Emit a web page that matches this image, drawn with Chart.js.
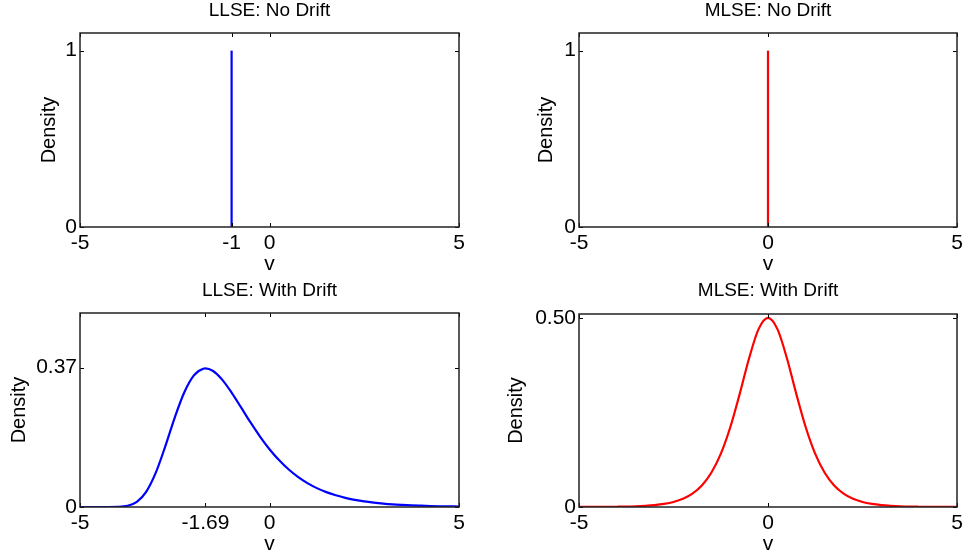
<!DOCTYPE html>
<html>
<head>
<meta charset="utf-8">
<script src="https://cdn.jsdelivr.net/npm/chart.js@4.4.1/dist/chart.umd.min.js"></script>
<style>
  body { margin: 0; background: #fff; }
  #fig { position: relative; width: 963px; height: 558px; background: #fff; }
  #fig canvas { position: absolute; }
</style>
</head>
<body>
<div id="fig">
  <canvas id="llseNo" width="481" height="280" style="left:0;top:0"></canvas>
  <canvas id="mlseNo" width="482" height="280" style="left:481px;top:0"></canvas>
  <canvas id="llseDrift" width="481" height="278" style="left:0;top:280px"></canvas>
  <canvas id="mlseDrift" width="482" height="278" style="left:481px;top:280px"></canvas>
</div>
<script>
// ── data ───────────────────────────────────────────────────────
const llseSpikeV = [-1, -1];
const llseSpikeD = [0, 1];
const mlseSpikeV = [0, 0];
const mlseSpikeD = [0, 1];

const llseDriftV = [-5, -4.75, -4.5, -4.25, -4, -3.75, -3.5, -3.25, -3, -2.75, -2.5, -2.25, -2, -1.75, -1.69,
  -1.5, -1.25, -1, -0.75, -0.5, -0.25, 0, 0.25, 0.5, 0.75, 1, 1.25, 1.5, 1.75, 2, 2.25, 2.5, 2.75,
  3, 3.25, 3.5, 3.75, 4, 4.25, 4.5, 4.75, 5];
const llseDriftD = [0, 0, 0, 0, 0.0004, 0.0031, 0.0136, 0.0408, 0.0911, 0.161, 0.2374, 0.304, 0.3488, 0.3672, 0.3679,
  0.3617, 0.3382, 0.3037, 0.2643, 0.2244, 0.187, 0.1534, 0.1245, 0.1001, 0.0799, 0.0634, 0.0501, 0.0395, 0.0311, 0.0243, 0.0191, 0.0149, 0.0117,
  0.0091, 0.0071, 0.0056, 0.0043, 0.0034, 0.0026, 0.002, 0.0016, 0.0012];

const mlseDriftV = [-5, -4.75, -4.5, -4.25, -4, -3.75, -3.5, -3.25, -3, -2.75, -2.5, -2.25, -2, -1.75, -1.5,
  -1.25, -1, -0.75, -0.5, -0.25, 0, 0.25, 0.5, 0.75, 1, 1.25, 1.5, 1.75, 2, 2.25, 2.5, 2.75,
  3, 3.25, 3.5, 3.75, 4, 4.25, 4.5, 4.75, 5];
const mlseDriftD = [0.0001, 0.0001, 0.0002, 0.0004, 0.0007, 0.0011, 0.0018, 0.003, 0.0049, 0.0081, 0.0133, 0.0217, 0.0353, 0.0569, 0.0904,
  0.1402, 0.21, 0.2983, 0.3932, 0.47, 0.5, 0.47, 0.3932, 0.2983, 0.21, 0.1402, 0.0904, 0.0569, 0.0353, 0.0217, 0.0133, 0.0081,
  0.0049, 0.003, 0.0018, 0.0011, 0.0007, 0.0004, 0.0002, 0.0001, 0.0001];

// tick positions and their labels
const llseNoXTicks = [-5, -1, 0, 5];
const llseNoXLabels = ['-5', '-1', '0', '5'];
const mlseNoXTicks = [-5, 0, 5];
const mlseNoXLabels = ['-5', '0', '5'];
const llseDriftXTicks = [-5, -1.69, 0, 5];
const llseDriftXLabels = ['-5', '-1.69', '0', '5'];
const mlseDriftXTicks = [-5, 0, 5];
const mlseDriftXLabels = ['-5', '0', '5'];

const noDriftYTicks = [0, 1];
const noDriftYLabels = ['0', '1'];
const llseDriftYTicks = [0, 0.37];
const llseDriftYLabels = ['0', '0.37'];
const mlseDriftYTicks = [0, 0.5];
const mlseDriftYLabels = ['0', '0.50'];

const BLUE = '#0000ff';
const RED = '#ff0000';
const FONT = "'Liberation Sans', Arial, Helvetica, sans-serif";

Chart.defaults.font.family = FONT;
Chart.defaults.color = '#000';

const toPts = (xs, ys) => xs.map((v, i) => ({ x: v, y: ys[i] }));

// MATLAB-ish box with inward ticks on all four sides
const boxTicks = {
  id: 'boxTicks',
  afterDatasetsDraw(chart) {
    const { ctx, chartArea: a, scales: { x, y } } = chart;
    const len = 4;
    ctx.save();
    ctx.strokeStyle = '#000';
    ctx.lineWidth = 1;
    ctx.beginPath();
    x.ticks.forEach(t => {
      const px = Math.round(x.getPixelForValue(t.value)) + 0.5;
      ctx.moveTo(px, a.bottom); ctx.lineTo(px, a.bottom - len);
      ctx.moveTo(px, a.top); ctx.lineTo(px, a.top + len);
    });
    y.ticks.forEach(t => {
      const py = Math.round(y.getPixelForValue(t.value)) + 0.5;
      ctx.moveTo(a.left, py); ctx.lineTo(a.left + len, py);
      ctx.moveTo(a.right, py); ctx.lineTo(a.right - len, py);
    });
    ctx.stroke();
    ctx.strokeStyle = '#222';
    ctx.lineWidth = 1.5;
    ctx.strokeRect(a.left, a.top, a.right - a.left, a.bottom - a.top);
    ctx.restore();
  },
};

function makeChart(id, o) {
  new Chart(document.getElementById(id), {
    type: 'line',
    data: {
      datasets: [{
        data: o.points,
        borderColor: o.color,
        borderWidth: 2.2,
        pointRadius: 0,
        cubicInterpolationMode: 'monotone',
        fill: false,
      }],
    },
    options: {
      responsive: false,
      animation: false,
      events: [],
      layout: { padding: { left: 0, top: 0, bottom: 0, right: o.right } },
      plugins: {
        legend: { display: false },
        tooltip: { enabled: false },
        title: {
          display: true,
          text: o.title,
          fullSize: false,
          color: '#000',
          font: { size: 19, weight: 'normal', lineHeight: 1 },
          padding: { top: 1.5, bottom: o.titleGap },
        },
      },
      scales: {
        x: {
          type: 'linear',
          min: -5,
          max: 5,
          grid: { display: false, drawTicks: false },
          border: { display: false },
          afterBuildTicks: s => { s.ticks = o.xTicks.map(v => ({ value: v })); },
          afterFit: s => { s.height = o.xHeight; s.paddingLeft = 0; s.paddingRight = 0; },
          ticks: {
            autoSkip: false,
            maxRotation: 0,
            minRotation: 0,
            padding: 6,
            font: { size: 21, lineHeight: 1 },
            callback: (v, i) => o.xLabels[i],
          },
          title: {
            display: true,
            text: 'v',
            font: { size: 21, lineHeight: 1 },
            padding: { top: 0, bottom: o.vGap },
          },
        },
        y: {
          type: 'linear',
          min: 0,
          max: o.yMax,
          grid: { display: false, drawTicks: false },
          border: { display: false },
          afterBuildTicks: s => { s.ticks = o.yTicks.map(v => ({ value: v })); },
          afterFit: s => { s.width = o.yWidth; s.paddingTop = 0; s.paddingBottom = 0; },
          ticks: {
            autoSkip: false,
            padding: 3,
            font: { size: 21, lineHeight: 1 },
            callback: (v, i) => o.yLabels[i],
          },
          title: {
            display: true,
            text: 'Density',
            font: { size: 20, lineHeight: 1 },
            padding: { top: o.densGap, bottom: 0 },
          },
        },
      },
    },
    plugins: [boxTicks],
  });
}

makeChart('llseNo', {
  title: 'LLSE: No Drift', color: BLUE, points: toPts(llseSpikeV, llseSpikeD),
  xTicks: llseNoXTicks, xLabels: llseNoXLabels, yTicks: noDriftYTicks, yLabels: noDriftYLabels,
  yMax: 1.1, right: 22, yWidth: 80, xHeight: 53, titleGap: 12.5, vGap: 5, densGap: 39.5,
});
makeChart('mlseNo', {
  title: 'MLSE: No Drift', color: RED, points: toPts(mlseSpikeV, mlseSpikeD),
  xTicks: mlseNoXTicks, xLabels: mlseNoXLabels, yTicks: noDriftYTicks, yLabels: noDriftYLabels,
  yMax: 1.1, right: 6, yWidth: 98, xHeight: 53, titleGap: 12.5, vGap: 5, densGap: 55,
});
makeChart('llseDrift', {
  title: 'LLSE: With Drift', color: BLUE, points: toPts(llseDriftV, llseDriftD),
  xTicks: llseDriftXTicks, xLabels: llseDriftXLabels, yTicks: llseDriftYTicks, yLabels: llseDriftYLabels,
  yMax: 0.515, right: 22, yWidth: 80, xHeight: 51, titleGap: 12.5, vGap: 3, densGap: 9.5,
});
makeChart('mlseDrift', {
  title: 'MLSE: With Drift', color: RED, points: toPts(mlseDriftV, mlseDriftD),
  xTicks: mlseDriftXTicks, xLabels: mlseDriftXLabels, yTicks: mlseDriftYTicks, yLabels: mlseDriftYLabels,
  yMax: 0.51, right: 6, yWidth: 98, xHeight: 51, titleGap: 13.5, vGap: 3, densGap: 25.5,
});
</script>
</body>
</html>
